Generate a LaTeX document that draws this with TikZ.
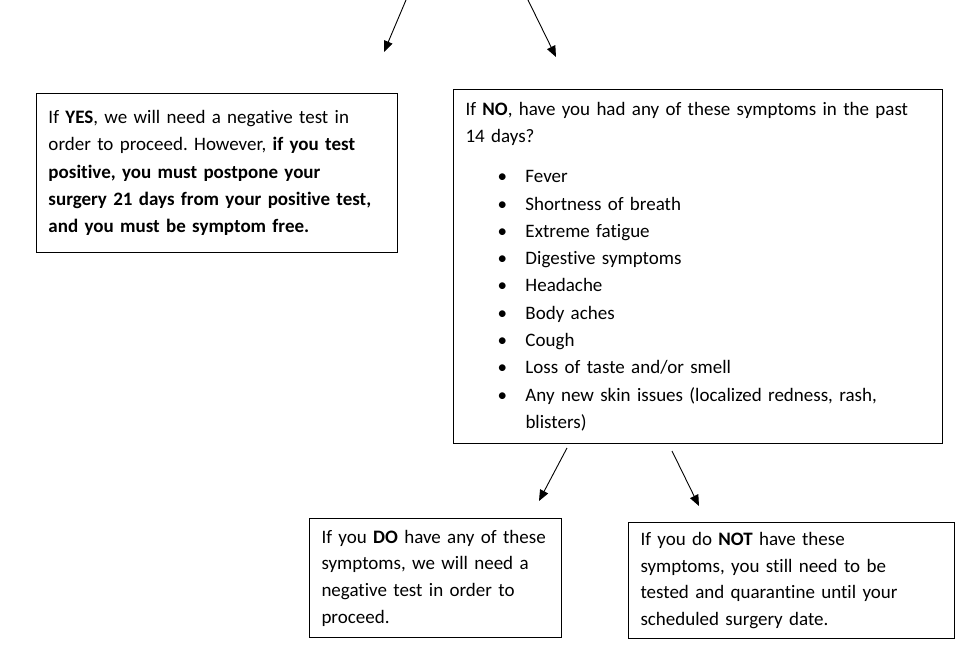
\documentclass[tikz,border=0pt]{standalone}
\usepackage{fontspec}
\setmainfont[Ligatures=NoCommon]{Carlito}
\usetikzlibrary{arrows.meta}
\frenchspacing
\begin{document}
\begin{tikzpicture}[x=1pt,y=-1pt,
  box/.style={draw=black, line width=1pt, anchor=north west, inner xsep=12pt, inner ysep=0pt,
    align=left, font=\fontsize{19}{27.3}\selectfont\frenchspacing},
  smallbox/.style={box, font=\fontsize{19}{26.7}\selectfont\frenchspacing},
  conn/.style={line width=0.9pt, -{Triangle[length=11pt,width=9pt]}}]
\useasboundingbox (0,0) rectangle (962,659);
\fill[white] (0,0) rectangle (962,659);
% boxes
\node[box, text width=337pt, minimum height=159pt] (yes) at (36,93)
  {If \textbf{YES}, we will need a negative test in\\
   order to proceed. However, \textbf{if you test}\\
   \textbf{positive, you must postpone your}\\
   \textbf{surgery 21 days from your positive test,}\\
   \textbf{and you must be symptom free.}};
\newcommand{\bul}[1]{\hspace*{32pt}\makebox[28pt][l]{\textbullet}#1}
\node[box, text width=465pt, minimum height=354pt] (no) at (453,89)
  {If \textbf{NO}, have you had any of these symptoms in the past\\
   14 days?\\[13pt]
   \bul{Fever}\\
   \bul{Shortness of breath}\\
   \bul{Extreme fatigue}\\
   \bul{Digestive symptoms}\\
   \bul{Headache}\\
   \bul{Body aches}\\
   \bul{Cough}\\
   \bul{Loss of taste and/or smell}\\
   \bul{Any new skin issues (localized redness, rash,}\\
   \hspace*{60pt}blisters)};
\node[smallbox, text width=228pt, minimum height=119pt] (do) at (309,518)
  {If you \textbf{DO} have any of these\\
   symptoms, we will need a\\
   negative test in order to\\
   proceed.};
\node[smallbox, text width=302pt, minimum height=116pt] (not) at (628,522)
  {If you do \textbf{NOT} have these\\
   symptoms, you still need to be\\
   tested and quarantine until your\\
   scheduled surgery date.};
% connectors
\coordinate (a1s) at (406,0);  \coordinate (a1e) at (384,52);
\coordinate (a2s) at (528,0);  \coordinate (a2e) at (556,57);
\coordinate (a3s) at (567,448); \coordinate (a3e) at (539,501);
\coordinate (a4s) at (672,451); \coordinate (a4e) at (699,506);
\draw[conn] (a1s) -- (a1e);
\draw[conn] (a2s) -- (a2e);
\draw[conn] (a3s) -- (a3e);
\draw[conn] (a4s) -- (a4e);
\end{tikzpicture}
\end{document}
